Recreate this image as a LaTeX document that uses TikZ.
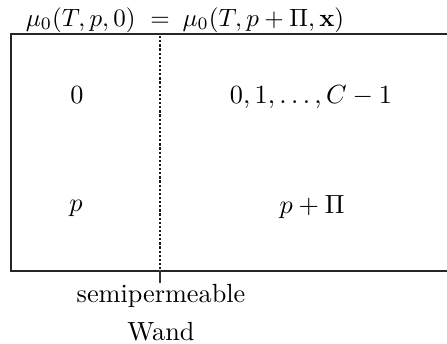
\documentclass[tikz,border=0pt]{standalone}
\tikzset{
  wall/.style={line width=1.1pt, draw=black!85},
  membrane/.style={line width=1.1pt, dash pattern=on 0.9pt off 0.75pt, draw=black!90},
  lbl/.style={inner sep=0pt, anchor=base},
  big/.style={scale=1.05, transform shape},
  tick/.style={line width=0.45pt, draw=black!80}
}
\begin{document}
\begin{tikzpicture}[x=0.4pt, y=-0.4pt]
  \useasboundingbox (0,0) rectangle (447,343);
  % container (cut off at the right edge)
  \coordinate (tr) at (447,34);
  \coordinate (tl) at (11,34);
  \coordinate (bl) at (11,271);
  \coordinate (br) at (447,271);
  \draw[wall] (tr) -- (tl) -- (bl) -- (br);
  % semipermeable wall
  \coordinate (mt) at (160,36);
  \coordinate (mb) at (160,270);
  \coordinate (me) at (160,283);
  \draw[membrane] (mt) -- (mb);
  \draw[tick] (mb) -- (me);
  % top formula
  \node[lbl, anchor=base east] (fl) at (136,26) {$\mu_0(T,p,0)$};
  \node[lbl] (feq) at (160,26) {$=$};
  \node[lbl, anchor=base west] (fr) at (182,26) {$\mu_0(T,p+\Pi,\mathbf{x})$};
  % contents
  \node[lbl, big] (n0) at (77,103) {$0$};
  \node[lbl, big] (nC) at (311,103) {$0,1,\ldots,C-1$};
  \node[lbl, big] (pL) at (76,211) {$p$};
  \node[lbl, big] (pR) at (312,213) {$p+\Pi$};
  % label
  \node[lbl, big] (semi) at (161,302) {semipermeable};
  \node[lbl, big] (wand) at (161,340) {Wand};
\end{tikzpicture}
\end{document}
